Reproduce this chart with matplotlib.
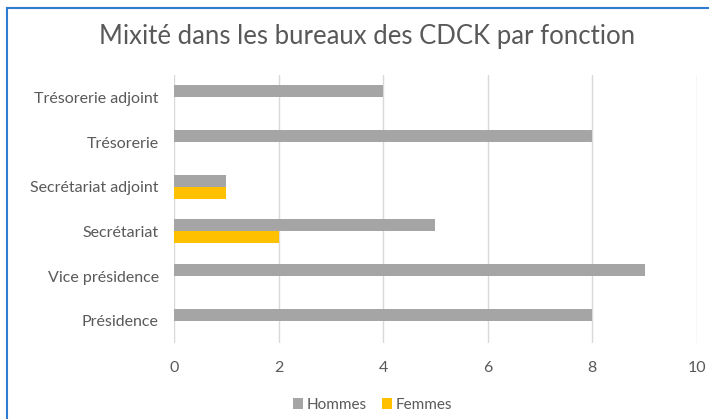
import numpy as np
import matplotlib.pyplot as plt
from matplotlib.lines import Line2D

plt.rcParams['font.family'] = ['Lato', 'DejaVu Sans']

# --- Data ---
categories = ["Présidence", "Vice présidence", "Secrétariat",
              "Secrétariat adjoint", "Trésorerie", "Trésorerie adjoint"]
hommes = [8, 9, 5, 1, 8, 4]
femmes = [0, 0, 2, 1, 0, 0]
series_names = ["Hommes", "Femmes"]
xticks = [0, 2, 4, 6, 8, 10]

gray = "#a5a5a5"
gold = "#ffc000"
text_col = "#595959"

fig = plt.figure(figsize=(7.09, 4.19), dpi=100)
ax = fig.add_axes([0.2454, 0.181, 0.7376, 0.640])

y = np.arange(len(categories))
h = 0.27
ax.barh(y + h / 2, hommes, height=h, color=gray, label=series_names[0], zorder=3)
ax.barh(y - h / 2, femmes, height=h, color=gold, label=series_names[1], zorder=3)

ax.set_xlim(0, 10)
ax.set_ylim(-0.5, len(categories) - 0.5)
ax.set_xticks(xticks)
ax.set_xticklabels([str(t) for t in xticks])
ax.set_yticks(y)
ax.set_yticklabels(categories)
ax.tick_params(axis='both', length=0, labelsize=11.5, colors=text_col)
ax.tick_params(axis='x', pad=13)
ax.tick_params(axis='y', pad=11)
ax.grid(axis='x', color="#d9d9d9", linewidth=1, zorder=0)
for s in ax.spines.values():
    s.set_visible(False)

fig.text(0.518, 0.912, "Mixité dans les bureaux des CDCK par fonction",
         ha='center', va='center', fontsize=18.5, color=text_col)

leg = fig.legend(loc='center', bbox_to_anchor=(0.525, 0.034), ncol=2,
                 frameon=False, fontsize=11, handlelength=0.7, handleheight=0.7,
                 handletextpad=0.2, columnspacing=1.0)
for t in leg.get_texts():
    t.set_color(text_col)

# chart border (left and top edges visible)
border = "#2e7bd0"
fig.add_artist(Line2D([7 / 709, 7 / 709], [0, 1 - 8 / 419], transform=fig.transFigure,
                      color=border, linewidth=1.5))
fig.add_artist(Line2D([7 / 709, 1], [1 - 8 / 419, 1 - 8 / 419], transform=fig.transFigure,
                      color=border, linewidth=1.5))

fig.savefig("out.png", dpi=100)
